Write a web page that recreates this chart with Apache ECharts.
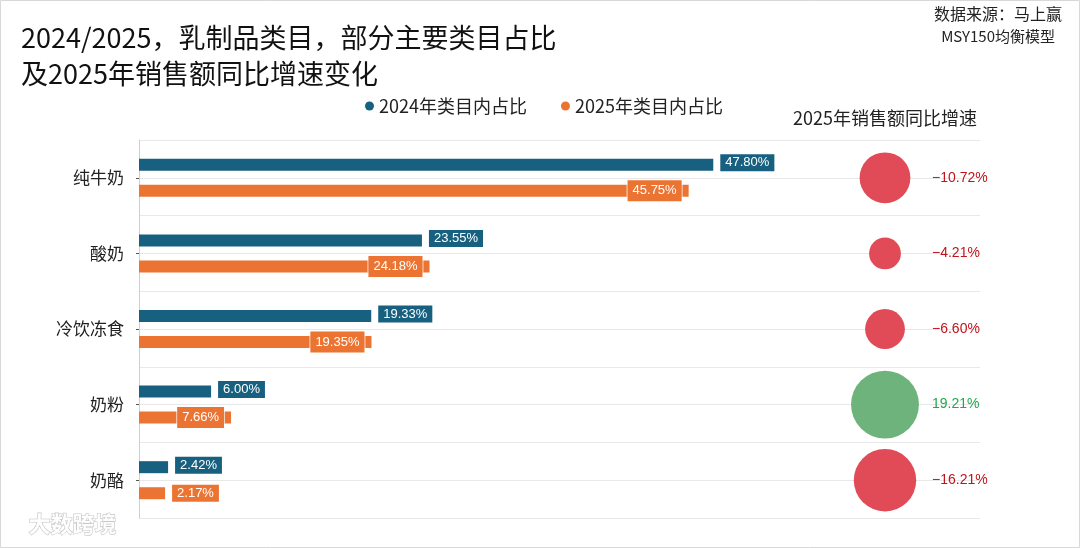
<!DOCTYPE html>
<html>
<head>
<meta charset="utf-8">
<script src="https://cdn.jsdelivr.net/npm/echarts@6/dist/echarts.min.js"></script>
<style>html,body{margin:0;padding:0;background:#fff;}#c{width:1080px;height:548px;}</style>
</head>
<body>
<div id="c"></div>
<script>
const categories = ['纯牛奶', '酸奶', '冷饮冻食', '奶粉', '奶酪'];
const share2024 = [47.80, 23.55, 19.33, 6.00, 2.42];
const share2025 = [45.75, 24.18, 19.35, 7.66, 2.17];
const growth2025 = [-10.72, -4.21, -6.60, 19.21, -16.21];
const seriesNames = ['2024年类目内占比', '2025年类目内占比'];
const bubbleTitle = '2025年销售额同比增速';
const titleText = '2024/2025，乳制品类目，部分主要类目占比\n及2025年销售额同比增速变化';

const FONT = '"Noto Sans CJK SC", "Noto Sans", sans-serif';
const NUMFONT = '"Liberation Sans", Arial, sans-serif';
const BLUE = '#17607f';
const ORANGE = '#ec7432';

const chart = echarts.init(document.getElementById('c'));
const halfSlots = Array.from({length: categories.length * 2}, (_, i) => 's' + i);

const option = {
  backgroundColor: '#fff',
  animation: false,
  title: {
    text: titleText, left: 16, top: 15,
    textStyle: {fontFamily: FONT, fontSize: 27, fontWeight: 'normal', color: '#111', lineHeight: 36}
  },
  graphic: [
    {type: 'rect', shape: {x: 0.5, y: 0.5, width: 1079, height: 547}, style: {fill: 'none', stroke: '#d8d8d8', lineWidth: 1}, z: -1},
    {type: 'text', right: 18, top: 6, style: {text: '数据来源：马上赢', font: '16px ' + FONT, fill: '#222', textAlign: 'right'}},
    {type: 'text', right: 25, top: 29, style: {text: 'MSY150均衡模型', font: '15px ' + FONT, fill: '#222', textAlign: 'right'}},
    {type: 'text', left: 28, top: 512, style: {text: '大数跨境', font: 'bold 22px ' + FONT, fill: 'rgba(255,255,255,0.9)', stroke: '#c8c8c8', lineWidth: 1.2}}
  ],
  legend: {
    data: seriesNames, left: 360, top: 92, icon: 'circle', itemWidth: 9, itemHeight: 9, itemGap: 34,
    textStyle: {fontFamily: FONT, fontSize: 18, color: '#222'}
  },
  grid: [
    {left: 139, top: 140, right: 100, bottom: 30},
    {left: 790, top: 140, width: 190, bottom: 30}
  ],
  xAxis: [
    {type: 'value', gridIndex: 0, min: 0, max: 70, show: false},
    {type: 'category', gridIndex: 1, data: [bubbleTitle], position: 'top',
     axisLine: {show: false}, axisTick: {show: false}, splitLine: {show: false},
     axisLabel: {fontFamily: FONT, fontSize: 18, color: '#222', margin: 13}}
  ],
  yAxis: [
    {type: 'category', gridIndex: 0, data: categories, inverse: true,
     axisLine: {show: true, lineStyle: {color: '#cfcfcf'}},
     axisTick: {show: true, alignWithLabel: true, length: 3, lineStyle: {color: '#555'}},
     axisLabel: {fontFamily: FONT, fontSize: 17, color: '#222', margin: 15},
     splitLine: {show: true, lineStyle: {color: '#d6d6d6'}}},
    {type: 'category', gridIndex: 0, data: halfSlots, inverse: true, position: 'left',
     axisLine: {show: false}, axisTick: {show: false}, axisLabel: {show: false},
     splitLine: {show: true, lineStyle: {color: '#e8e8e8'}}},
    {type: 'category', gridIndex: 1, data: categories, inverse: true, show: false}
  ],
  series: [
    {
      name: seriesNames[0], type: 'bar', xAxisIndex: 0, yAxisIndex: 0,
      data: share2024, barWidth: 12, barGap: '117%',
      itemStyle: {color: BLUE},
      label: {show: true, position: 'right', distance: 7, offset: [0, -2], formatter: p => p.value.toFixed(2) + '%',
        fontFamily: NUMFONT, fontSize: 13, color: '#fff', backgroundColor: BLUE,
        borderColor: 'rgba(255,255,255,0.7)', borderWidth: 1, padding: [2, 5]},
      z: 3
    },
    {
      name: seriesNames[1], type: 'bar', xAxisIndex: 0, yAxisIndex: 0,
      data: share2025.map(v => v < 5 ? {value: v, label: {position: 'right', distance: 7, padding: [2, 5]}} : v),
      barWidth: 12,
      itemStyle: {color: ORANGE},
      label: {show: true, position: 'insideRight', distance: 7, formatter: p => p.value.toFixed(2) + '%',
        fontFamily: NUMFONT, fontSize: 13, color: '#fff', backgroundColor: ORANGE,
        borderColor: 'rgba(255,255,255,0.7)', borderWidth: 1, padding: [4, 5]},
      z: 3
    },
    {
      name: bubbleTitle, type: 'scatter', xAxisIndex: 1, yAxisIndex: 2,
      data: categories.map((c, i) => [bubbleTitle, c, growth2025[i]]),
      symbolSize: d => 15.5 * Math.sqrt(Math.abs(d[2])),
      itemStyle: {color: p => p.value[2] < 0 ? '#e04b57' : '#6db37b', opacity: 1},
      label: {show: true, position: 'inside', align: 'left', offset: [47, 0],
        formatter: p => (p.value[2] < 0 ? '−' : '') + Math.abs(p.value[2]).toFixed(2) + '%',
        fontFamily: NUMFONT, fontSize: 14,
        color: '#c0141c'},
      z: 4
    }
  ]
};
option.series[2].data = option.series[2].data.map(d => d[2] >= 0 ? {value: d, label: {color: '#1faa4a'}} : d);
chart.setOption(option);
</script>
</body>
</html>
